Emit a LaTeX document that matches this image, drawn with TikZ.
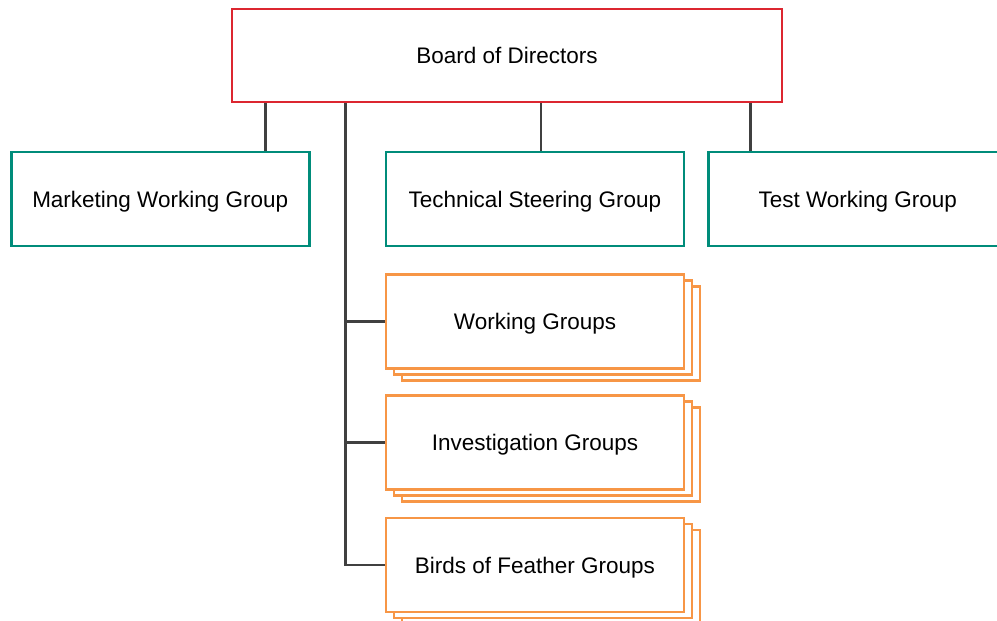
\documentclass[tikz,border=0pt]{standalone}
\usepackage{fontspec}
\setmainfont{Liberation Sans}
\usetikzlibrary{positioning, shadows}

\definecolor{boardred}{RGB}{220,38,48}
\definecolor{groupteal}{RGB}{0,140,122}
\definecolor{stackorange}{RGB}{247,150,70}
\definecolor{linkgray}{RGB}{64,64,64}

\begin{document}
\begin{tikzpicture}[
    every node/.style={font=\fontsize{12.8}{15}\selectfont},
    box/.style={draw, fill=white, line width=1.6pt, minimum width=5.96cm, minimum height=1.88cm,
        inner sep=0pt, text height=9.2pt, text depth=0pt},
    groupbox/.style={box, draw=groupteal},
    stackbox/.style={box, draw=stackorange,
        double copy shadow={shadow xshift=0.16cm, shadow yshift=-0.12cm, draw=stackorange, fill=white, line width=1.6pt}},
    link/.style={linkgray, line width=1.5pt}
]
    \useasboundingbox (0,0) rectangle (19.94,-12.42);

    % Board
    \node[box, draw=boardred, minimum width=11cm, minimum height=1.86cm] (board) at (10.14,-1.11) {Board of Directors};

    % Groups under the board
    \node[groupbox] (tsg) at (10.70,-3.98) {Technical Steering Group};
    \node[groupbox, left=1.48cm of tsg] (mwg) {Marketing Working Group};
    \node[groupbox, right=0.44cm of tsg] (twg) {Test Working Group};

    % Stacked groups
    \node[stackbox, below=0.52cm of tsg] (wg) {Working Groups};
    \node[stackbox, below=0.48cm of wg] (ig) {Investigation Groups};
    \node[stackbox, below=0.51cm of ig] (bof) {Birds of Feather Groups};

    % Connectors
    \coordinate (mwgup) at ([xshift=-0.9cm]mwg.north east);
    \coordinate (tsgup) at ([xshift=0.12cm]tsg.north);
    \coordinate (twgup) at ([xshift=0.86cm]twg.north west);
    \draw[link] (mwgup) -- (mwgup |- board.south);
    \draw[link] (tsgup) -- (tsgup |- board.south);
    \draw[link] (twgup) -- (twgup |- board.south);

    \coordinate (trunk) at ([xshift=2.3cm]board.south west);
    \draw[link] (trunk) |- (bof.west);
    \draw[link] (trunk |- wg.west) -- (wg.west);
    \draw[link] (trunk |- ig.west) -- (ig.west);
\end{tikzpicture}
\end{document}
